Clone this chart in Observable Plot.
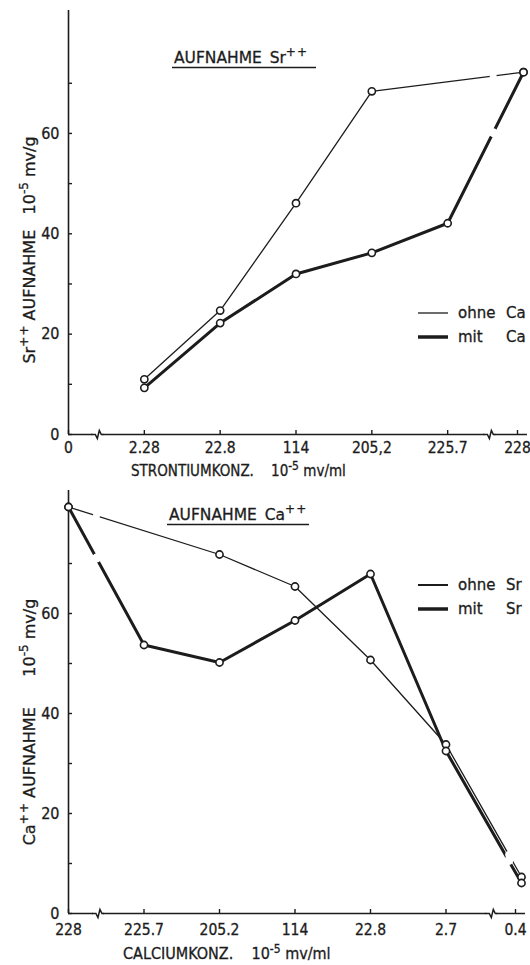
<!DOCTYPE html>
<html><head><meta charset="utf-8">
<script src="https://cdn.jsdelivr.net/npm/d3@7"></script>
<script src="https://cdn.jsdelivr.net/npm/@observablehq/plot@0.6"></script>
<style>
body{margin:0;background:#fff;}
#c{width:530px;line-height:0;}
svg text{white-space:pre;stroke:#1c1c1c;stroke-width:0.3px;}
</style></head><body><div id="c"></div>
<script>
// ---- Top panel: Aufnahme Sr++ ----
const srLabels = ["0", "2.28", "22.8", "114", "205,2", "225.7", "228"];
const srOhneCa = [null, 11.0, 24.7, 46.1, 68.4, null, 72.2];
const srMitCa  = [null, 9.3, 22.2, 32.0, 36.2, 42.1, 72.2];
// ---- Bottom panel: Aufnahme Ca++ ----
const caLabels = ["228", "225.7", "205.2", "114", "22.8", "2.7", "0.4"];
const caOhneSr = [81.3, null, 71.8, 65.4, 50.7, 33.8, 7.3];
const caMitSr  = [81.3, 53.7, 50.2, 58.6, 67.9, 32.5, 6.1];
// axis ticks
const yMajor = [0, 20, 40, 60];
const yMinor = [10, 30, 50, 70];
// axis breaks (category index positions) and where the curves are interrupted
const srAxisBreaks = [0.38, 5.55];
const caAxisBreaks = [0.39, 5.6];
const srLineBreaks = [5.6];
const caLineBreaks = [0.37, 5.83];

const INK = "#1c1c1c";
const FONT = "DejaVu Sans";
const FONT_C = "DejaVu Sans Condensed";

function toRows(vals) { return vals.map((v, i) => ({i, v})).filter(d => d.v != null); }
function gapPoints(rows, breaks) {
  const out = [];
  for (const b of breaks) for (let k = 0; k < rows.length - 1; k++) {
    const a = rows[k], c = rows[k + 1];
    if (a.i < b && c.i > b) { const t = (b - a.i) / (c.i - a.i); out.push({i: b, v: a.v + (c.v - a.v) * t}); }
  }
  return out;
}
const breakSymbol = {draw(ctx) { ctx.moveTo(-6, 0); ctx.lineTo(-2, 0); ctx.lineTo(0, 4); ctx.lineTo(2, -4); ctx.lineTo(4, 0); ctx.lineTo(6, 0); }};
const eraseSymbol = {draw(ctx) { ctx.moveTo(-5, 0); ctx.lineTo(5, 0); }};

function panel(o) {
  const thin = toRows(o.ohne), thick = toRows(o.mit);
  const gThin = gapPoints(thin, o.lineBreaks), gThick = gapPoints(thick, o.lineBreaks);
  const idx = d3.range(0, 7);
  return Plot.plot({
    width: 530, height: o.height,
    marginLeft: 68, marginRight: o.marginRight, marginTop: o.marginTop, marginBottom: o.marginBottom,
    style: {fontFamily: FONT_C, fontSize: "15.5px", color: INK, background: "white"},
    x: {domain: [0, 6], axis: null},
    y: {domain: [0, o.yMax], axis: null},
    marks: [
      Plot.ruleY([0], {stroke: INK, strokeWidth: 1.6, insetRight: -4}),
      Plot.ruleX([0], {stroke: INK, strokeWidth: 1.6}),
      Plot.axisX({ticks: idx.slice(0, 6), label: null, tickFormat: i => o.labels[i], tickSize: -4, tickPadding: o.xPad, fontSize: 15.5, stroke: INK, strokeWidth: 1.4}),
      Plot.axisX({ticks: idx.slice(6), label: null, tickFormat: i => o.labels[i], tickSize: -4, tickPadding: o.xPad, dx: -6, fontSize: 15.5, stroke: INK, strokeWidth: 1.4}),
      Plot.axisY({ticks: yMajor, label: null, tickSize: -4, tickPadding: 13, fontSize: 16, stroke: INK, strokeWidth: 1.4}),
      Plot.axisY({ticks: yMinor, label: null, tickSize: -4, tickFormat: () => "", stroke: INK, strokeWidth: 1.4}),
      Plot.dot(o.axisBreaks, {x: d => d, y: () => 0, symbol: eraseSymbol, stroke: "white", strokeWidth: 4, fill: "none"}),
      Plot.dot(o.axisBreaks, {x: d => d, y: () => 0, symbol: breakSymbol, stroke: INK, strokeWidth: 1.5, fill: "none"}),
      Plot.line(thin, {x: "i", y: "v", stroke: INK, strokeWidth: 1.3}),
      Plot.line(thick, {x: "i", y: "v", stroke: INK, strokeWidth: 3}),
      Plot.dot(gThin, {x: "i", y: "v", r: 3.5, fill: "white"}),
      Plot.dot(gThick, {x: "i", y: "v", r: 4.5, fill: "white"}),
      Plot.dot(thin, {x: "i", y: "v", r: 3.6, fill: "white", stroke: INK, strokeWidth: 1.6}),
      Plot.dot(thick, {x: "i", y: "v", r: 3.6, fill: "white", stroke: INK, strokeWidth: 1.6})
    ]
  });
}

// rich text: parts = [[string, isSuperscript]]
function rich(textSel, parts, supSize, rise) {
  let raised = false;
  for (const [s, sup] of parts) {
    const t = textSel.append("tspan").text(s);
    if (sup && !raised) t.attr("font-size", supSize).attr("dy", -rise);
    else if (!sup && raised) t.attr("dy", rise);
    raised = !!sup;
  }
  return textSel;
}

function annotate(svgEl, a) {
  const s = d3.select(svgEl);
  const g = s.append("g").attr("font-family", FONT).attr("fill", INK).attr("text-anchor", "start");
  // title
  rich(g.append("text").attr("x", a.titleX).attr("y", a.titleY).attr("font-size", 15.5),
    [["AUFNAHME\u2002" + a.ion, false], ["+\u200A+", true]], 12, 7);
  g.append("line").attr("x1", a.titleX - 2).attr("x2", a.ulEnd).attr("y1", a.titleY + 4.5).attr("y2", a.titleY + 4.5).attr("stroke", INK).attr("stroke-width", 1.7);
  // y title
  rich(g.append("text").attr("transform", `translate(35,${a.yTitleY}) rotate(-90)`).attr("text-anchor", "middle").attr("font-size", 16),
    [[a.ion, false], ["+\u200A+", true], ["\u00a0AUFNAHME" + a.yGap + "10", false], ["-5", true], ["\u00a0mv/g", false]], 12, 7);
  // x title
  rich(g.append("text").attr("x", a.xTitleX).attr("y", a.xTitleY).attr("font-family", FONT_C).attr("font-size", a.xSize),
    [[a.xName + "\u00a0\u00a0\u00a0\u00a010", false], ["-5", true], ["\u00a0mv/ml", false]], 12, 6);
  // legend
  g.append("line").attr("x1", 418).attr("x2", 448).attr("y1", a.legY1).attr("y2", a.legY1).attr("stroke", INK).attr("stroke-width", a.thinLeg);
  g.append("line").attr("x1", 418).attr("x2", 448).attr("y1", a.legY2).attr("y2", a.legY2).attr("stroke", INK).attr("stroke-width", 3.5);
  g.append("text").attr("x", 458).attr("y", a.legY1 + 5).attr("font-size", 15).text("ohne");
  g.append("text").attr("x", 506).attr("y", a.legY1 + 5).attr("font-size", 15).text(a.other);
  g.append("text").attr("x", 458).attr("y", a.legY2 + 5).attr("font-size", 15).text("mit");
  g.append("text").attr("x", 506).attr("y", a.legY2 + 5).attr("font-size", 15).text(a.other);
}

const srPlot = panel({labels: srLabels, ohne: srOhneCa, mit: srMitCa, axisBreaks: srAxisBreaks, lineBreaks: srLineBreaks,
  height: 482, marginTop: 10, marginBottom: 48, marginRight: 7, yMax: 84.5, xPad: 11});
annotate(srPlot, {ion: "Sr", titleX: 174, titleY: 63, ulEnd: 316,
  yGap: "\u00a0\u00a0\u00a0", yTitleY: 250,
  xName: "STRONTIUMKONZ.", xTitleX: 131, xTitleY: 476, xSize: 15,
  legY1: 313, legY2: 337, thinLeg: 1.3, other: "Ca"});

const caPlot = panel({labels: caLabels, ohne: caOhneSr, mit: caMitSr, axisBreaks: caAxisBreaks, lineBreaks: caLineBreaks,
  height: 483, marginTop: 8, marginBottom: 52, marginRight: 9, yMax: 84.6, xPad: 14});
annotate(caPlot, {ion: "Ca", titleX: 169, titleY: 38, ulEnd: 309,
  yGap: "\u00a0\u00a0\u00a0\u00a0\u00a0\u00a0", yTitleY: 240,
  xName: "CALCIUMKONZ.", xTitleX: 123, xTitleY: 477, xSize: 16,
  legY1: 103, legY2: 127, thinLeg: 2, other: "Sr"});

document.getElementById("c").append(srPlot, caPlot);
</script></body></html>
